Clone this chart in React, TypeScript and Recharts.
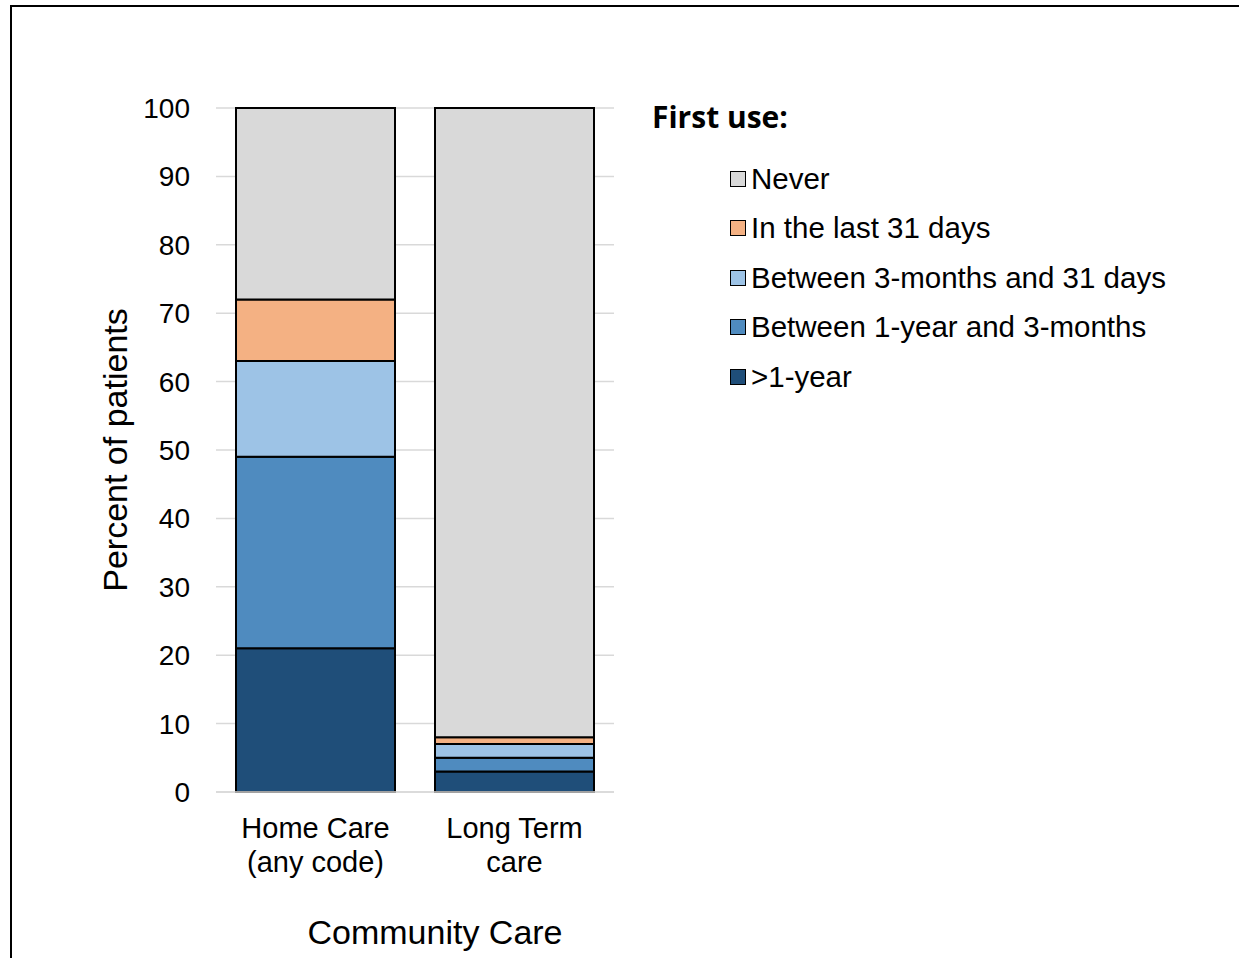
import React from 'react';
import { BarChart, Bar, XAxis, YAxis, CartesianGrid } from 'recharts';

const categories = ['Home Care\n(any code)', 'Long Term\ncare'];
const overOneYear = [21, 3];
const oneYearToThreeMonths = [28, 2];
const threeMonthsTo31Days = [14, 2];
const last31Days = [9, 1];
const never = [28, 92];
const yTicks = [0, 10, 20, 30, 40, 50, 60, 70, 80, 90, 100];

const seriesNames = ['>1-year', 'Between 1-year and 3-months', 'Between 3-months and 31 days', 'In the last 31 days', 'Never'];
const seriesKeys = ['s1', 's2', 's3', 's4', 's5'];
const seriesColors = ['#1f4e79', '#4f8bbf', '#9dc3e6', '#f4b183', '#d9d9d9'];
const seriesValues = [overOneYear, oneYearToThreeMonths, threeMonthsTo31Days, last31Days, never];

const data = categories.map((c, i) => {
  const row: any = { name: c };
  seriesKeys.forEach((k, j) => { row[k] = seriesValues[j][i]; });
  return row;
});

const FONT = '"Liberation Sans", Arial, sans-serif';

const XTick = (props: any) => {
  const { x, y, payload } = props;
  const lines = String(payload.value).split('\n');
  return (
    <g>
      {lines.map((l: string, i: number) => (
        <text key={i} x={x} y={y + 38 + i * 34} textAnchor="middle" fontFamily={FONT} fontSize={29} fill="#000">{l}</text>
      ))}
    </g>
  );
};

const LegendBox = () => {
  const order = [4, 3, 2, 1, 0];
  return (
    <div style={{ position: 'absolute', left: 652, top: 100, fontFamily: FONT }}>
      <div style={{ fontFamily: '"Open Sans", "Noto Sans", sans-serif', fontWeight: 700, fontSize: 30, lineHeight: '34px', color: '#000' }}>First use:</div>
      <div style={{ marginTop: 20, marginLeft: 78 }}>
        {order.map((j) => (
          <div key={j} style={{ display: 'flex', alignItems: 'center', height: 49.5 }}>
            <div style={{ width: 14, height: 14, background: seriesColors[j], border: '1.5px solid #000', marginRight: 5 }} />
            <span style={{ fontSize: 29.5, color: '#000', whiteSpace: 'nowrap' }}>{seriesNames[j]}</span>
          </div>
        ))}
      </div>
    </div>
  );
};

export default function App() {
  return (
    <div style={{ position: 'fixed', left: 0, top: 0, width: 1239, height: 958, background: '#fff', overflow: 'hidden' }}>
      <div style={{ position: 'absolute', left: 10, top: 5, width: 1260, height: 1000, border: '2px solid #000', boxSizing: 'border-box' }} />
      <div style={{ position: 'absolute', left: 0, top: 0 }}>
        <BarChart
          width={1239}
          height={958}
          data={data}
          margin={{ top: 108, right: 625, bottom: 106, left: 116 }}
          barCategoryGap={20}
        >
          <CartesianGrid vertical={false} stroke="#d9d9d9" strokeWidth={1.5} />
          <XAxis
            dataKey="name"
            height={60}
            tick={<XTick />}
            tickLine={false}
            axisLine={{ stroke: '#d9d9d9', strokeWidth: 1.5 }}
            interval={0}
            label={{
              content: (p: any) => {
                const vb = p.viewBox;
                return (
                  <text x={vb.x + vb.width / 2 + 20} y={944} textAnchor="middle" fontFamily={FONT} fontSize={34} fill="#000">Community Care</text>
                );
              },
            }}
          />
          <YAxis
            width={100}
            domain={[0, 100]}
            ticks={yTicks}
            tickLine={false}
            axisLine={false}
            tickSize={26}
            tickMargin={0}
            tick={{ fontFamily: FONT, fontSize: 28, fill: '#000' }}
            label={{
              content: () => (
                <text x={0} y={0} transform="translate(127,450) rotate(-90)" textAnchor="middle" fontFamily={FONT} fontSize={34} fill="#000">Percent of patients</text>
              ),
            }}
          />
          {seriesKeys.map((k, j) => (
            <Bar
              key={k}
              dataKey={k}
              name={seriesNames[j]}
              stackId="a"
              fill={seriesColors[j]}
              stroke="#000"
              strokeWidth={2}
              isAnimationActive={false}
            />
          ))}
        </BarChart>
      </div>
      <LegendBox />
    </div>
  );
}
